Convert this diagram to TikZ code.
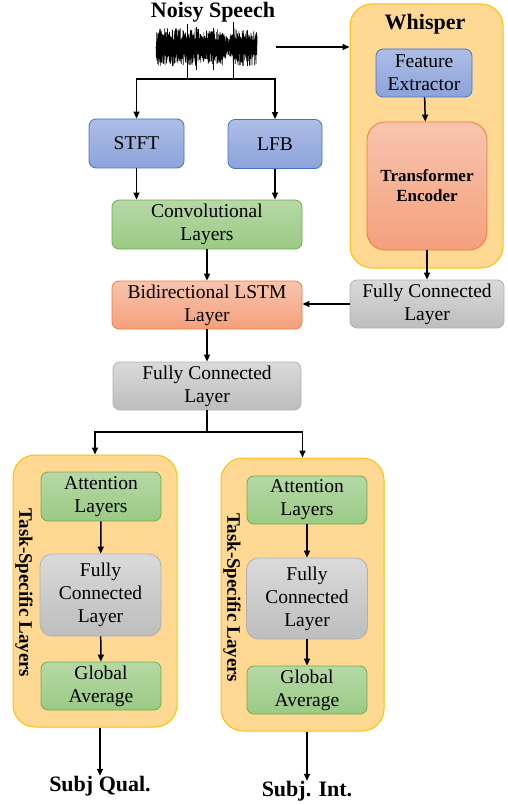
\documentclass[tikz,border=0pt]{standalone}
\usepackage{fontspec}
\setmainfont{Liberation Serif}
\usetikzlibrary{arrows.meta,calc}

\definecolor{bluetop}{HTML}{ADBDE6}
\definecolor{bluebot}{HTML}{8CA3DA}
\definecolor{blueline}{HTML}{4472C4}
\definecolor{greentop}{HTML}{B6D8A6}
\definecolor{greenbot}{HTML}{9BCA85}
\definecolor{greenline}{HTML}{70AD47}
\definecolor{redtop}{HTML}{F8C4AE}
\definecolor{redbot}{HTML}{F4A07C}
\definecolor{redline}{HTML}{ED7D31}
\definecolor{graytop}{HTML}{DADADA}
\definecolor{graybot}{HTML}{BDBDBD}
\definecolor{grayline}{HTML}{B0B0B0}
\definecolor{goldfill}{HTML}{FFD994}
\definecolor{goldline}{HTML}{FFC000}

\tikzset{
  >={Triangle[length=7pt,width=6pt]},
  box/.style={rounded corners=7pt, align=center, inner sep=0pt, line width=0.8pt,
    font=\fontsize{19.5}{23}\selectfont},
  bluebox/.style={box, draw=blueline, top color=bluetop, bottom color=bluebot},
  greenbox/.style={box, draw=greenline, top color=greentop, bottom color=greenbot},
  redbox/.style={box, draw=redline, top color=redtop, bottom color=redbot},
  graybox/.style={box, draw=grayline, top color=graytop, bottom color=graybot},
  goldbox/.style={rounded corners=22pt, draw=goldline, fill=goldfill, line width=1pt, inner sep=0pt},
  title/.style={font=\fontsize{22}{24}\selectfont\bfseries, inner sep=0pt},
  tasklabel/.style={font=\fontsize{19}{20}\selectfont\bfseries, rotate=-90, inner sep=0pt},
  link/.style={->, line width=1.5pt}
}

\begin{document}
\begin{tikzpicture}[x=1pt, y=-1pt]
\useasboundingbox (0,0) rectangle (508,805);

% speech input
\node[title] (noisy) at (213,12) {Noisy Speech};
\node (speech) at (206.5,50) [minimum width=101pt, minimum height=56pt, inner sep=0pt] {};
\pgfmathsetseed{3}
\draw[line width=0.6pt] (156,47) \foreach \i in {1,...,300}{
  -- ({156+\i*0.337},{47+(2*mod(\i,2)-1)*(7+12*rnd)*(1-0.6*max(0,1-abs(\i-214)/14))}) };
\draw[line width=1pt] (187,24) -- (187,78);
\draw[line width=1pt] (233,22) -- (233,80);
\draw[line width=1pt] (196,27) -- (196,70);
\draw[line width=1pt] (213,28) -- (213,70);
\draw[line width=1pt] (172,30) -- (172,66);
\draw[line width=1pt] (247,30) -- (247,66);

% whisper branch
\node[goldbox, minimum width=153pt, minimum height=264pt] (whisper) at (426.5,136) {};
\node[title] (wtitle) at (425,24) {Whisper};
\node[bluebox, minimum width=96pt, minimum height=48pt] (fe) at (424,73) {Feature\\Extractor};
\node[redbox, rounded corners=18pt, minimum width=120pt, minimum height=128pt,
  font=\fontsize{17}{20}\selectfont\bfseries] (enc) at (427,186) {Transformer\\Encoder};
\node[graybox, minimum width=154pt, minimum height=48pt] (fcw) at (427,304) {Fully Connected\\Layer};

% main branch
\node[bluebox, minimum width=95pt, minimum height=49pt] (stft) at (136.5,143.5) {STFT};
\node[bluebox, minimum width=94pt, minimum height=49pt] (lfb) at (275,144) {LFB};
\node[greenbox, minimum width=190pt, minimum height=49pt] (conv) at (207,224.5) {Convolutional\\Layers};
\node[redbox, minimum width=190pt, minimum height=48pt] (lstm) at (207,305) {Bidirectional LSTM\\Layer};
\node[graybox, minimum width=188pt, minimum height=48pt] (fcmid) at (207,386) {Fully Connected\\Layer};

% task specific heads
\node[goldbox, minimum width=164pt, minimum height=272pt] (task1) at (95,591) {};
\node[tasklabel] (tl1) at (24,593) {Task-Specific Layers};
\node[greenbox, minimum width=120pt, minimum height=49pt] (att1) at (101,496.5) {Attention\\Layers};
\node[graybox, rounded corners=12pt, minimum width=121pt, minimum height=82pt] (fc1) at (100.5,595) {Fully\\Connected\\Layer};
\node[greenbox, minimum width=120pt, minimum height=48pt] (ga1) at (101,686) {Global\\Average};

\node[goldbox, minimum width=163pt, minimum height=273pt] (task2) at (302.5,594.5) {};
\node[tasklabel] (tl2) at (232,598) {Task-Specific Layers};
\node[greenbox, minimum width=120pt, minimum height=48pt] (att2) at (307,500) {Attention\\Layers};
\node[graybox, rounded corners=12pt, minimum width=121pt, minimum height=81pt] (fc2) at (307,598.5) {Fully\\Connected\\Layer};
\node[greenbox, minimum width=120pt, minimum height=48pt] (ga2) at (307,690) {Global\\Average};

\node[title] (qual) at (100,786) {Subj Qual.};
\node[title] (intl) at (307,791) {Subj. Int.};

% connectors
\coordinate (split) at (206.5,79);
\coordinate (wstart) at (276,47);
\coordinate (fork) at (207,432);
\draw[line width=1.5pt] (speech.south) -- (split);
\draw[link] (split) -| (stft.north);
\draw[link] (split) -| (lfb.north);
\draw[link] (wstart) -- (wstart -| whisper.west);
\draw[link] (fe) -- (enc);
\draw[link] (enc.south) -- (fcw.north -| enc.south);
\draw[link] (fcw.west) -- (fcw.west -| lstm.east);
\draw[link] (stft.south) -- (stft.south |- conv.north);
\draw[link] (lfb.south) -- (lfb.south |- conv.north);
\draw[link] (conv) -- (lstm);
\draw[link] (lstm) -- (fcmid);
\draw[line width=1.5pt] (fcmid.south) -- (fork);
\draw[link] (fork) -| (task1.north);
\draw[link] (fork) -| (task2.north);
\draw[link] (att1) -- (fc1);
\draw[link] (fc1) -- (ga1);
\draw[link] (att2) -- (fc2);
\draw[link] (fc2) -- (ga2);
\draw[link] (qual.north |- task1.south) -- (qual.north);
\draw[link] (intl.north |- task2.south) -- (intl.north);
\end{tikzpicture}
\end{document}
